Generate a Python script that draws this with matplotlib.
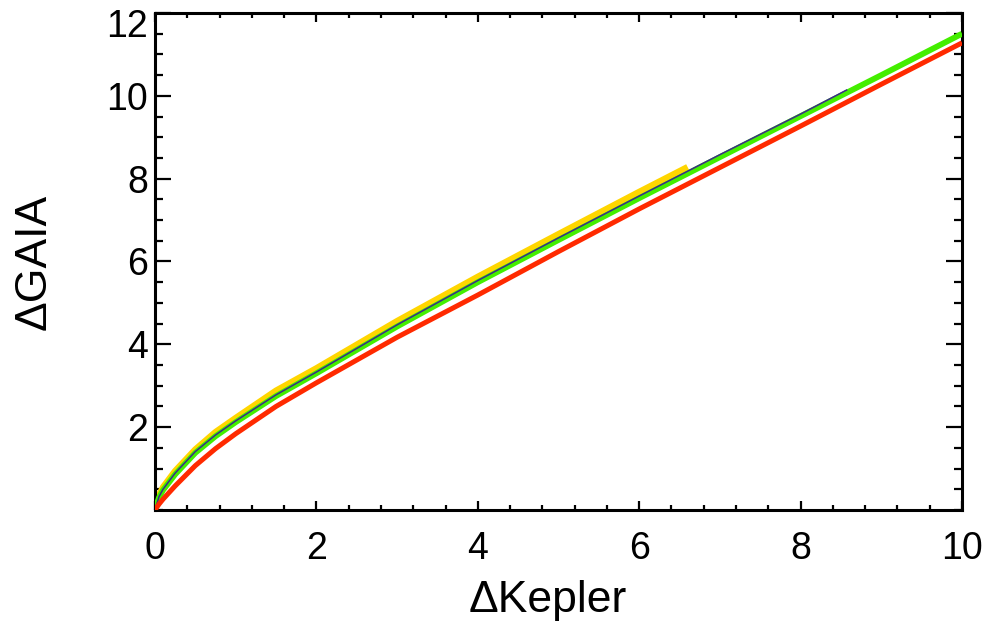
import numpy as np
import matplotlib
matplotlib.use("Agg")
import matplotlib.pyplot as plt
from matplotlib.ticker import MultipleLocator
from matplotlib.transforms import ScaledTranslation

plt.rcParams['font.family'] = ['Liberation Sans', 'DejaVu Sans']

# curves
x_red = [0, 0.05, 0.1, 0.25, 0.5, 0.75, 1, 1.5, 2, 3, 4, 5, 6, 7, 8, 9, 10]
y_red = [0, 0.14, 0.26, 0.58, 1.07, 1.48, 1.84, 2.5, 3.07, 4.17, 5.19, 6.24, 7.27, 8.27, 9.27, 10.28, 11.28]

x_green = [0, 0.05, 0.1, 0.25, 0.5, 0.75, 1, 1.5, 2, 3, 4, 5, 6, 7, 8, 9, 10]
y_green = [0, 0.3, 0.48, 0.86, 1.38, 1.78, 2.12, 2.75, 3.3, 4.43, 5.5, 6.52, 7.53, 8.52, 9.51, 10.5, 11.5]

x_blue = [0, 0.05, 0.1, 0.25, 0.5, 0.75, 1, 1.5, 2, 3, 4, 5, 6, 7, 8, 8.57]
y_blue = [0, 0.32, 0.5, 0.89, 1.41, 1.81, 2.15, 2.78, 3.33, 4.47, 5.54, 6.57, 7.58, 8.58, 9.56, 10.14]

x_yellow = [0, 0.05, 0.1, 0.25, 0.5, 0.75, 1, 1.5, 2, 3, 4, 5, 6, 6.6]
y_yellow = [0, 0.36, 0.55, 0.94, 1.46, 1.88, 2.22, 2.88, 3.42, 4.56, 5.63, 6.66, 7.68, 8.28]

fig = plt.figure(figsize=(9.92, 6.35), dpi=100)
ax = fig.add_axes([0.1562, 0.1969, 0.8136, 0.7826])

ax.plot(x_yellow, y_yellow, color="#FFD600", lw=4.6, solid_capstyle="butt", zorder=2)
ax.plot(x_green, y_green, color="#44EE00", lw=4.2, solid_capstyle="butt", zorder=3)
ax.plot(x_blue, y_blue, color="#3A2A8A", lw=1.1, zorder=4)
ax.plot(x_red, y_red, color="#FF2A00", lw=3.6, solid_capstyle="butt", zorder=5)

ax.set_xlim(0, 10)
ax.set_ylim(0, 12)
ax.set_xticks([0, 2, 4, 6, 8, 10])
ax.set_yticks([2, 4, 6, 8, 10, 12])
ax.xaxis.set_minor_locator(MultipleLocator(0.4))
ax.yaxis.set_minor_locator(MultipleLocator(0.5))

for s in ax.spines.values():
    s.set_linewidth(2.2)

ax.tick_params(axis='both', which='both', direction='in', top=True, right=True,
               labelsize=27, width=1.6)
ax.tick_params(axis='x', which='major', length=6.5, pad=15)
ax.tick_params(axis='x', which='minor', length=3.6)
ax.tick_params(axis='y', which='major', length=11.5, pad=5)
ax.tick_params(axis='y', which='minor', length=5.8)

ax.set_xlabel("ΔKepler", fontsize=32)
ax.set_ylabel("ΔGAIA", fontsize=32)
ax.xaxis.set_label_coords(0.487, -0.14)
ax.yaxis.set_label_coords(-0.124, 0.50)

# top y label sits a bit lower so it stays inside the figure
top_lab = ax.yaxis.get_major_ticks()[-1].label1
top_lab.set_transform(top_lab.get_transform() + ScaledTranslation(0, -0.10, fig.dpi_scale_trans))

fig.savefig("out.png", dpi=100)
